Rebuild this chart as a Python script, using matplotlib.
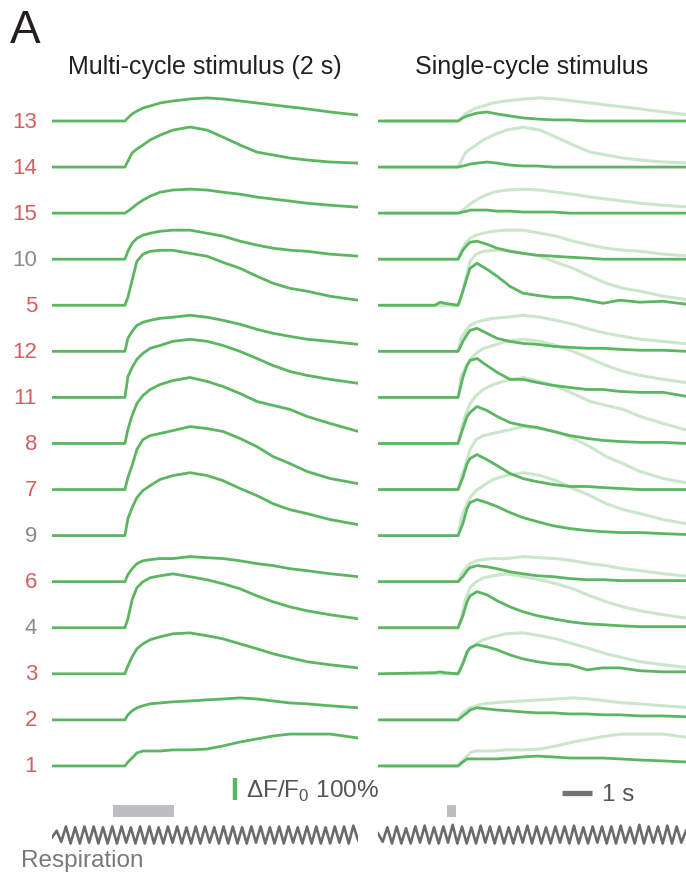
import numpy as np
import matplotlib.pyplot as plt
from matplotlib.patches import Rectangle

plt.rcParams['font.family'] = ['Liberation Sans', 'DejaVu Sans']
plt.rcParams['mathtext.fontset'] = 'custom'
plt.rcParams['mathtext.rm'] = 'Liberation Sans'

# cells, top to bottom
cells = [13, 14, 15, 10, 5, 12, 11, 8, 7, 9, 6, 4, 3, 2, 1]
gray_cells = [10, 9, 4]

# multi-cycle stimulus (2 s), dF/F in %
t_multi = [0, 2.27, 2.43, 2.53, 2.67, 2.83, 3.03, 3.27, 3.6, 4.03, 4.6, 5.17,
           5.7, 6.27, 6.83, 7.37, 7.93, 8.5, 9.27, 10.2]
multi = {
    13: [0, 0, 0, 14, 32, 45, 59, 68, 82, 91, 100, 105, 100, 91, 82, 73, 64, 55, 41, 27],
    14: [0, 0, 0, 27, 64, 82, 100, 123, 145, 168, 182, 168, 136, 100, 68, 55, 41, 32, 23, 18],
    15: [0, 0, 0, 9, 23, 41, 59, 77, 95, 105, 109, 105, 95, 86, 73, 64, 55, 45, 36, 27],
    10: [0, 0, 0, 36, 73, 95, 109, 118, 127, 132, 132, 118, 105, 82, 64, 50, 41, 36, 23, 14],
    5: [0, 0, 0, 36, 114, 200, 232, 245, 250, 250, 236, 223, 195, 168, 132, 100, 77, 64, 41, 23],
    12: [0, 0, 0, 59, 91, 118, 132, 141, 150, 155, 164, 155, 141, 123, 100, 82, 68, 55, 45, 32],
    11: [0, 0, 0, 95, 136, 173, 200, 223, 236, 255, 264, 255, 236, 209, 177, 145, 118, 100, 82, 64],
    8: [0, 0, 0, 64, 127, 182, 218, 245, 268, 286, 300, 282, 259, 227, 191, 173, 155, 123, 91, 55],
    7: [0, 0, 0, 55, 109, 182, 227, 245, 255, 268, 286, 277, 264, 232, 195, 150, 118, 82, 50, 27],
    9: [0, 0, 0, 77, 127, 173, 205, 227, 255, 273, 286, 273, 250, 214, 182, 145, 118, 100, 73, 50],
    6: [0, 0, 0, 32, 59, 82, 95, 100, 105, 105, 114, 109, 105, 95, 82, 73, 59, 50, 36, 23],
    4: [0, 0, 0, 41, 127, 182, 209, 227, 236, 245, 232, 218, 200, 177, 145, 118, 95, 77, 59, 41],
    3: [0, 0, 0, 36, 77, 114, 136, 155, 168, 182, 186, 173, 159, 136, 114, 91, 73, 55, 41, 27],
    2: [0, 0, 0, 23, 41, 55, 64, 73, 77, 82, 86, 91, 95, 100, 95, 86, 77, 73, 64, 55],
    1: [0, 0, 0, 18, 36, 59, 68, 68, 68, 73, 73, 77, 91, 109, 123, 136, 145, 145, 145, 127],
}

# single-cycle stimulus, dF/F in %
t_single = [0, 1.9, 2.07, 2.23, 2.67, 2.83, 2.97, 3.07, 3.3, 3.63, 3.97, 4.4,
            4.83, 5.3, 5.83, 6.4, 6.97, 7.5, 8.07, 8.73, 9.5, 10.27]
single = {
    13: [0, 0, 0, 0, 0, 14, 23, 27, 36, 41, 32, 23, 14, 9, 5, 5, 0, 0, 0, 0, 0, 0],
    14: [0, 0, 0, 0, 0, 5, 9, 14, 18, 23, 18, 9, 5, 5, 0, 0, 0, 0, 0, 0, 0, 0],
    15: [0, 0, 0, 0, 0, 5, 9, 14, 14, 14, 9, 9, 5, 5, 5, 0, 0, 0, 0, 0, 0, 0],
    10: [0, 0, 0, 0, 0, 41, 64, 77, 82, 68, 50, 36, 27, 18, 14, 9, 5, 0, 0, 0, 0, 0],
    5: [0, 0, 14, 9, 0, 64, 127, 168, 191, 164, 132, 86, 55, 45, 36, 36, 23, 9, 23, 14, 18, 5],
    12: [0, 0, 0, 0, 0, 45, 77, 95, 105, 82, 59, 45, 36, 32, 23, 18, 14, 14, 9, 5, 5, 0],
    11: [0, 0, 0, 0, 0, 91, 145, 168, 177, 145, 114, 82, 82, 68, 55, 45, 36, 36, 27, 23, 23, 5],
    8: [0, 0, 0, 0, 0, 68, 123, 141, 168, 150, 123, 95, 82, 73, 55, 36, 23, 14, 9, 5, 5, 0],
    7: [0, 0, 0, 0, 0, 55, 118, 141, 159, 136, 109, 73, 50, 36, 23, 14, 14, 9, 5, 0, 0, 0],
    9: [0, 0, 0, 0, 0, 55, 123, 150, 164, 150, 132, 105, 82, 64, 45, 32, 23, 18, 14, 14, 9, 5],
    6: [0, 0, 0, 0, 0, 23, 50, 64, 73, 68, 59, 45, 36, 27, 23, 14, 9, 9, 5, 5, 5, 5],
    4: [0, 0, 0, 0, 0, 55, 118, 145, 164, 150, 123, 95, 73, 55, 41, 27, 18, 14, 9, 5, 5, 5],
    3: [0, 5, 9, 5, 0, 45, 100, 118, 132, 123, 109, 86, 68, 55, 45, 41, 18, 27, 27, 14, 9, 9],
    2: [0, 0, 0, 0, 0, 18, 32, 45, 55, 50, 45, 41, 36, 32, 32, 27, 27, 23, 23, 18, 18, 14],
    1: [0, 0, 0, 0, 0, 18, 32, 32, 32, 32, 32, 36, 41, 45, 41, 36, 36, 36, 32, 27, 23, 18],
}

stim_multi = (2.03, 4.07)
stim_single = (2.3, 2.6)
shift_single = 0.24  # multi traces re-drawn faint, onset aligned

# respiration, alternating trough / peak (a.u.)
resp_multi = [-0.3,
              0.5, -0.8, 1.0, -1.0, 0.9, -1.0, 1.0, -0.9, 1.0, -1.0,
              0.9, -1.0, 1.0, -1.0, 1.0, -0.9, 0.9, -1.0, 1.0, -1.0,
              1.0, -1.0, 0.9, -1.0, 1.0, -0.9, 1.0, -1.0, 0.9, -1.0,
              1.0, -1.0, 1.0, -0.9, 0.9, -1.0, 1.0, -1.0, 1.0, -1.0,
              0.9, -1.0, 1.0, -0.9, 1.0, -1.0, 0.9, -1.0, 1.0, -1.0,
              1.0, -0.9, 0.9, -1.0, 1.0, -1.0, 1.0, -1.0, 0.9, -1.0,
              1.0, -0.9, 1.0, -1.0, 1.1, -0.6]
resp_single = [0.2,
               -0.8, 0.9, -1.0, 1.0, -1.0, 0.8, -1.0, 1.0, -0.9, 1.1,
               -1.0, 0.9, -1.0, 1.0, -0.9, 1.2, -1.0, 1.0, -1.0, 0.9,
               -1.0, 1.1, -0.9, 1.0, -1.0, 1.0, -1.0, 0.9, -1.0, 1.0,
               -0.9, 1.1, -1.0, 1.0, -1.0, 0.9, -1.0, 1.0, -0.9, 1.0,
               -1.0, 1.1, -1.0, 0.9, -1.0, 1.0, -0.9, 1.0, -1.0, 1.0,
               -1.0, 1.1, -0.9, 0.9, -1.0, 1.2, -1.0, 1.0, -0.9, 1.0,
               -1.0, 1.1, -1.0, 1.0, -0.9, 0.5]

GREEN = '#5cb560'
FAINT = '#cbe7cb'
RED = '#d4605e'
GREY = '#8b8b8b'
RESP = '#6b6b6d'

W, H = 686, 879
PX_PER_PCT = 0.22
SPACING = 209.4
BASE_PX = 122
RESP_PX = 8.5  # px per respiration unit

fig = plt.figure(figsize=(W / 100, H / 100), dpi=100)


def px_axes(x0, x1, y0, y1):
    ax = fig.add_axes([x0 / W, 1 - y1 / H, (x1 - x0) / W, (y1 - y0) / H])
    ax.axis('off')
    return ax


def fig_text(x, y, s, **kw):
    fig.text(x / W, 1 - y / H, s, **kw)


ax_l = px_axes(52, 358, 0, H)
ax_r = px_axes(378, 686, 0, H)
for ax, tmax in [(ax_l, 10.2), (ax_r, 10.27)]:
    ax.set_xlim(0, tmax)
    ax.set_ylim(-(H - BASE_PX) / PX_PER_PCT, BASE_PX / PX_PER_PCT)

for i, c in enumerate(cells):
    off = -SPACING * i
    ax_l.plot(t_multi, np.array(multi[c]) + off, color=GREEN, lw=2.0,
              solid_joinstyle='round')
    ax_r.plot(np.array(t_multi) + shift_single, np.array(multi[c]) + off,
              color=FAINT, lw=2.2, solid_joinstyle='round')
for i, c in enumerate(cells):
    off = -SPACING * i
    ax_r.plot(t_single, np.array(single[c]) + off, color=GREEN, lw=2.0,
              solid_joinstyle='round')
    fig_text(37, BASE_PX + SPACING * PX_PER_PCT * i, str(c),
             color=GREY if c in gray_cells else RED, fontsize=16,
             ha='right', va='center')

# respiration + stimulus bars
for (x0, x1), tmax, resp, stim in [((52, 358), 10.2, resp_multi, stim_multi),
                                    ((378, 686), 10.27, resp_single, stim_single)]:
    ax = px_axes(x0, x1, 800, 850)
    ax.set_xlim(0, tmax)
    ax.set_ylim(-14 / RESP_PX, 36 / RESP_PX)
    ax.plot(np.linspace(0, tmax, len(resp)), resp, color=RESP, lw=1.9,
            solid_joinstyle='round')
    ax.add_patch(Rectangle((stim[0], 18 / RESP_PX), stim[1] - stim[0],
                           12 / RESP_PX, color='#bdbec2', lw=0))

# scale bars
ax_l.plot([6.1, 6.1], [-2985, -3085], color=GREEN, lw=3.2, clip_on=False,
          solid_capstyle='butt')
ax_r.plot([6.13, 7.13], [-3055, -3055], color='#727274', lw=3.8, clip_on=False,
          solid_capstyle='butt')
fig_text(246, 791, 'ΔF/F$_0$ 100%', color='#555557', fontsize=17.5, va='center')
fig_text(602, 795, '1 s', color='#555557', fontsize=17.5, va='center')
fig_text(21, 861, 'Respiration', color='#79797b', fontsize=17.5, va='center')

fig_text(10, 31, 'A', color='#231f20', fontsize=33, va='center')
fig_text(205, 67, 'Multi-cycle stimulus (2 s)', color='#231f20', fontsize=18,
         ha='center', va='center')
fig_text(532, 67, 'Single-cycle stimulus', color='#231f20', fontsize=18,
         ha='center', va='center')

fig.savefig('out.png', dpi=100)
